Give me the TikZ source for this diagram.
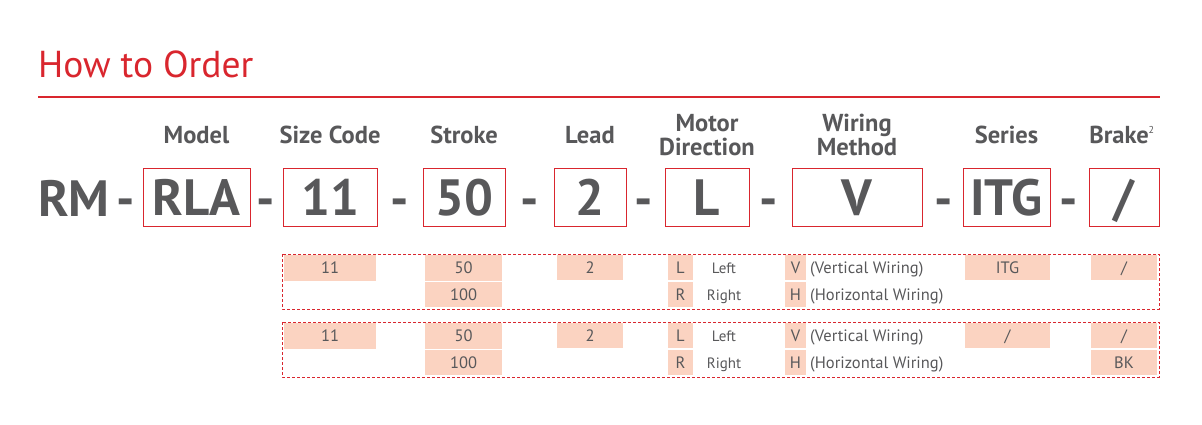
\documentclass[tikz,border=0pt]{standalone}
\usepackage{fontspec}
\setmainfont{PT Sans}
\definecolor{ordred}{HTML}{D9262E}
\definecolor{inkgray}{HTML}{58585A}
\definecolor{peach}{HTML}{FBD3C1}
\newcommand\titlefont{\fontsize{37.5}{37.5}\selectfont}
\newcommand\headfont{\fontsize{24.5}{24}\selectfont\bfseries}
\newcommand\bigfont{\fontsize{51}{51}\selectfont\bfseries}
\newcommand\cellfont{\fontsize{16.5}{16.5}\selectfont}
\newcommand\notefont{\fontsize{15}{15}\selectfont}
\tikzset{
  head/.style={anchor=base, inner sep=0pt, align=center, font=\headfont, text=inkgray},
  bigtxt/.style={anchor=base, inner sep=0pt, font=\bigfont, text=inkgray},
  codebox/.style={draw=ordred, line width=0.9pt, inner sep=0pt, minimum height=58,
    text height=36, text depth=0pt, font=\bigfont, text=inkgray},
  cell/.style={fill=peach, inner sep=0pt, minimum height=25, text height=11.5,
    text depth=0pt, font=\cellfont, text=inkgray},
  note/.style={inner sep=0pt, text height=11.5, text depth=0pt, text=inkgray},
  optframe/.style={draw=ordred, line width=0.8pt, dash pattern=on 3pt off 2pt}
}
\begin{document}
\begin{tikzpicture}[x=1pt, y=-1pt]
  \useasboundingbox (0,0) rectangle (1202,424);
  % title and rule
  \node[anchor=base west, inner sep=0pt, font=\titlefont, text=ordred] (title) at (38,77) {How to Order};
  \coordinate (rulel) at (38,97);
  \coordinate (ruler) at (1160,97);
  \draw[ordred, line width=2pt] (rulel) -- (ruler);
  % headings
  \node[head] (hmodel) at (196.5,143) {Model};
  \node[head] (hsize) at (330,143) {Size Code};
  \node[head] (hstroke) at (464,143) {Stroke};
  \node[head] (hlead) at (590,143) {Lead};
  \node[head] (hmotor) at (707,155) {Motor\\Direction};
  \node[head] (hwiring) at (857,155) {Wiring\\Method};
  \node[head] (hseries) at (1006.5,143) {Series};
  \node[head] (hbrake) at (1122,143) {Brake\textsuperscript{\fontsize{10}{10}\selectfont\mdseries 2}};
  % model code
  \node[bigtxt, anchor=base west] (rm) at (38,216) {RM};
  \foreach \x [count=\i] in {126,266,400,530,644,769,944,1069}
    \node[bigtxt] (dash\i) at (\x,216) {-};
  \node[codebox, minimum width=107] (model) at (196.5,197) {RLA};
  \node[codebox, minimum width=94] (size) at (330,197) {11};
  \node[codebox, minimum width=82] (stroke) at (464,197) {50};
  \node[codebox, minimum width=72] (lead) at (590,197) {2};
  \node[codebox, minimum width=84] (motor) at (707,197) {L};
  \node[codebox, minimum width=130] (wiring) at (857,197) {V};
  \node[codebox, minimum width=87] (series) at (1006.5,197) {ITG};
  \node[codebox, minimum width=70] (brake) at (1124,197) {/};
  % option tables
  \draw[optframe] (282,254) rectangle (1159,309);
  \draw[optframe] (282,322) rectangle (1159,377);
  \foreach \blk/\dy/\ser in {a/0/ITG, b/68/{/}} {
    \node[cell, minimum width=92, minimum height=26] (size\blk) at (330,{268+\dy}) {11};
    \node[cell, minimum width=77, minimum height=26] (stroke\blk) at (463.5,{268+\dy}) {50};
    \node[cell, minimum width=77] (strokeb\blk) at (463.5,{294.5+\dy}) {100};
    \node[cell, minimum width=66] (lead\blk) at (590,{267.5+\dy}) {2};
    \node[cell, minimum width=25] (left\blk) at (680.5,{267.5+\dy}) {L};
    \node[cell, minimum width=25] (right\blk) at (680.5,{294.5+\dy}) {R};
    \node[note, font=\notefont] (lefttxt\blk) at (724,{267.5+\dy}) {Left};
    \node[note, font=\notefont] (righttxt\blk) at (724,{294.5+\dy}) {Right};
    \node[cell, minimum width=21] (vert\blk) at (795.5,{267.5+\dy}) {V};
    \node[cell, minimum width=21] (horz\blk) at (795.5,{294.5+\dy}) {H};
    \node[note, anchor=west, font=\cellfont] (verttxt\blk) at (810,{267.5+\dy}) {(Vertical Wiring)};
    \node[note, anchor=west, font=\cellfont] (horztxt\blk) at (810,{294.5+\dy}) {(Horizontal Wiring)};
    \node[cell, minimum width=85] (series\blk) at (1007.5,{267.5+\dy}) {\ser};
    \node[cell, minimum width=66] (brake\blk) at (1124,{267.5+\dy}) {/};
  }
  \node[cell, minimum width=66] (brakebk) at (1124,362.5) {BK};
\end{tikzpicture}
\end{document}
